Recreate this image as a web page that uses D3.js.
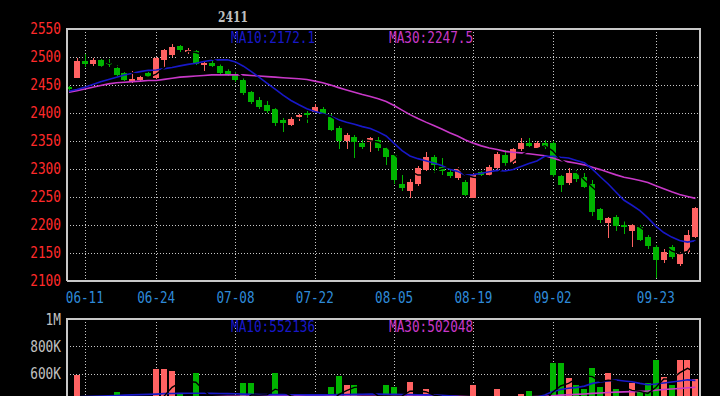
<!DOCTYPE html>
<html>
<head>
<meta charset="utf-8">
<script src="https://cdn.jsdelivr.net/npm/d3@7"></script>
<style>
  html, body { margin: 0; padding: 0; background: #000; overflow: hidden; }
  svg { display: block; }
</style>
</head>
<body>
<div id="chart"></div>
<script>
const title = "2411";

const dates = [
  "06-06","06-07","06-11","06-12","06-13","06-14","06-17","06-18","06-19","06-20",
  "06-21","06-24","06-25","06-26","06-27","06-28","07-01","07-02","07-03","07-04",
  "07-05","07-08","07-09","07-10","07-11","07-12","07-15","07-16","07-17","07-18",
  "07-19","07-22","07-23","07-24","07-25","07-26","07-29","07-30","07-31","08-01",
  "08-02","08-05","08-06","08-07","08-08","08-09","08-12","08-13","08-14","08-15",
  "08-16","08-19","08-20","08-21","08-22","08-23","08-26","08-27","08-28","08-29",
  "08-30","09-02","09-03","09-04","09-05","09-06","09-09","09-10","09-11","09-12",
  "09-13","09-18","09-19","09-20","09-23","09-24","09-25","09-26","09-27","09-30"
];

const open = [
  2446,2463,2492,2487,2494,2489,2481,2471,2458,2459, 2471,2462,2495,2503,2519,2509,2510,2485,2490,2484,
  2475,2470,2459,2438,2424,2415,2408,2387,2378,2392, 2400,2402,2407,2393,2374,2350,2358,2346,2348,2352,
  2337,2325,2274,2260,2273,2298,2322,2303,2295,2284, 2277,2248,2294,2289,2301,2325,2311,2335,2347,2337,
  2346,2346,2287,2275,2292,2286,2274,2228,2203,2215, 2200,2190,2196,2178,2161,2137,2161,2130,2152,2179
];
const high = [
  2448,2498,2505,2498,2496,2497,2486,2473,2475,2467, 2474,2500,2514,2523,2521,2516,2513,2493,2494,2487,
  2478,2473,2462,2440,2428,2421,2411,2391,2392,2399, 2403,2416,2411,2399,2376,2365,2360,2354,2358,2358,
  2339,2328,2290,2283,2305,2330,2325,2319,2298,2303, 2280,2292,2297,2307,2330,2334,2338,2355,2356,2350,
  2351,2350,2290,2302,2299,2292,2280,2230,2215,2218, 2209,2203,2200,2182,2165,2158,2165,2152,2191,2232
];
const low = [
  2439,2462,2483,2484,2481,2482,2466,2457,2453,2456, 2463,2460,2480,2500,2509,2505,2486,2475,2482,2470,
  2466,2456,2433,2416,2408,2400,2376,2366,2376,2385, 2383,2401,2396,2368,2336,2336,2320,2336,2331,2332,
  2307,2273,2260,2249,2270,2296,2292,2289,2284,2280, 2252,2248,2287,2287,2299,2306,2309,2333,2339,2335,
  2336,2285,2259,2272,2277,2266,2216,2203,2176,2190, 2184,2161,2172,2158,2105,2133,2140,2127,2150,2177
];
const close = [
  2442,2492,2488,2495,2484,2486,2467,2459,2461,2465, 2465,2498,2512,2517,2512,2512,2487,2490,2484,2472,
  2468,2459,2435,2420,2411,2404,2383,2382,2390,2396, 2396,2410,2398,2370,2350,2360,2348,2339,2355,2337,
  2322,2280,2266,2276,2302,2322,2307,2296,2287,2300, 2254,2289,2290,2304,2327,2310,2335,2347,2341,2346,
  2339,2289,2271,2292,2282,2268,2224,2209,2212,2198, 2197,2200,2174,2162,2137,2152,2143,2149,2182,2230
];
const volume = [
  380000,590000,350000,300000,320000,360000,470000,330000,300000,280000,
  340000,633000,633000,622000,450000,380000,609000,350000,330000,400000,
  360000,410000,530000,530000,390000,380000,609000,452000,360000,330000,
  370000,400000,380000,505000,585000,517000,517000,400000,370000,390000,
  517000,505000,410000,541000,400000,491000,380000,360000,330000,350000,
  400000,517000,320000,330000,492000,310000,350000,455000,474000,340000,
  380000,681000,681000,567000,517000,488000,644000,504000,609000,491000,
  260000,530000,470000,534000,703000,576000,519000,703000,700000,560000
];

const ma10 = [
  2439,2442,2446,2451,2456,2460,2464,2468,2471,2473.9, 2476.2,2476.8,2479.2,2481.4,2484.2,2486.8,2488.8,2491.9,2494.2,2494.9,
  2495.2,2491.3,2483.6,2473.9,2463.8,2453.0,2442.6,2431.8,2422.4,2414.8, 2407.6,2402.7,2399.0,2394.0,2387.9,2383.5,2380.0,2375.7,2372.2,2366.3,
  2358.9,2345.9,2332.7,2323.3,2318.5,2314.7,2310.6,2306.3,2299.5,2295.8, 2289.0,2289.9,2292.3,2295.1,2297.6,2296.4,2299.2,2304.3,2309.7,2314.3,
  2322.8,2322.8,2320.9,2319.7,2315.2,2311.0,2299.9,2286.1,2273.2,2258.4, 2244.2,2235.3,2225.6,2212.6,2198.1,2186.5,2178.4,2172.4,2169.4,2172.1
];
const ma30 = [
  2437,2440,2443,2446,2449,2452,2454,2455,2456,2457, 2458,2458,2460,2462,2464,2465,2466,2467,2468,2468,
  2468,2468,2468,2467,2466,2465,2464,2463,2462,2461.2, 2459.7,2456.9,2453.9,2449.8,2445.3,2441.1,2437.1,2433.1,2429.6,2425.3,
  2420.6,2413.3,2405.1,2397.1,2390.1,2383.7,2377.7,2371.3,2364.7,2359.0, 2351.8,2346.2,2341.3,2337.5,2334.7,2331.5,2329.9,2328.8,2327.1,2325.5,
  2323.6,2319.5,2315.3,2312.7,2310.4,2307.4,2303.2,2298.9,2294.1,2289.5, 2285.3,2282.7,2279.6,2275.8,2270.3,2264.6,2259.2,2254.3,2250.8,2247.5
];
const volMa10 = [
  430000,432000,434000,436000,438000,440000,442000,444000,446000,448000,
  450000,452000,455000,456000,457000,458000,458000,458000,457000,456000,
  455000,454000,452000,450000,449000,448000,448000,448000,447000,447000,
  446000,446000,446000,447000,448000,449000,450000,451000,452000,452000,
  451000,450000,449000,448000,447000,446000,445000,443000,440000,435000,
  425000,420000,415000,412000,410000,410000,412000,415000,420000,430000,
  445000,470000,485000,495000,500000,510000,530000,540000,548000,555000,
  548000,542000,530000,520000,525000,533000,540000,548000,556000,552136
];
const volMa30 = [
  415000,416000,417000,418000,419000,420000,421000,422000,423000,424000,
  425000,426000,427000,428000,429000,430000,431000,432000,433000,434000,
  435000,436000,437000,437000,438000,438000,439000,439000,440000,440000,
  441000,442000,443000,444000,445000,446000,446000,447000,447000,447000,
  446000,446000,445000,445000,444000,443000,442000,440000,438000,436000,
  434000,432000,430000,430000,430000,430000,431000,432000,433000,434000,
  436000,440000,444000,447000,450000,453000,457000,460000,463000,466000,
  468000,470000,472000,475000,480000,485000,489000,493000,498000,502048
];

const tickDates = ["06-11","06-24","07-08","07-22","08-05","08-19","09-02","09-23"];
const priceTicks = [2100,2150,2200,2250,2300,2350,2400,2450,2500,2550];
const volTicks = [600000,800000,1000000];
const volTickLabels = ["600K","800K","1M"];

const width = 720, height = 396;
const left = 67, right = 700;
const pTop = 29, pBottom = 281;
const vTop = 319, vBottom = 456;
const step = 7.93;

const UP = "#ff6262", DOWN = "#00b400";
const BLUE = "#1818c8", PINK = "#c838c8";
const FRAME = "#c8c8c8";
const mono = "DejaVu Sans Mono";

const svg = d3.select("#chart").append("svg")
  .attr("width", width)
  .attr("height", height)
  .style("background", "#000");

const x = d3.scaleBand()
  .domain(d3.range(dates.length))
  .range([65, 65 + step * dates.length])
  .paddingInner(0.24)
  .paddingOuter(0.12);
const cx = i => x(i) + x.bandwidth() / 2;

const y = d3.scaleLinear().domain([2100, 2550]).range([pBottom, pTop]);
const yv = d3.scaleLinear().domain([0, 1000000]).range([vBottom, vTop]);

const tickIdx = tickDates.map(t => dates.indexOf(t));

// moving average of 5 (drawn in black, only shows over the bars)
const ma5 = arr => arr.map((v, i) => i < 4 ? null : d3.mean(arr.slice(i - 4, i + 1)));

const defs = svg.append("defs");
defs.append("clipPath").attr("id", "clipP").append("rect")
  .attr("x", left).attr("y", pTop).attr("width", right - left).attr("height", pBottom - pTop);
defs.append("clipPath").attr("id", "clipV").append("rect")
  .attr("x", left).attr("y", vTop).attr("width", right - left).attr("height", vBottom - vTop);

function fitText(sel, per) {
  sel.each(function () {
    const t = d3.select(this);
    t.attr("textLength", t.text().length * per).attr("lengthAdjust", "spacingAndGlyphs");
  });
}

// ---------- price panel ----------
const gridP = svg.append("g").attr("stroke", FRAME).attr("stroke-dasharray", "1,2").attr("stroke-width", 1);
gridP.selectAll(".h").data(priceTicks.slice(1, -1)).enter().append("line")
  .attr("x1", left).attr("x2", right)
  .attr("y1", d => Math.round(y(d)) + 0.5).attr("y2", d => Math.round(y(d)) + 0.5);
gridP.selectAll(".v").data(tickIdx).enter().append("line")
  .attr("x1", d => Math.round(cx(d)) + 0.5).attr("x2", d => Math.round(cx(d)) + 0.5)
  .attr("y1", pTop).attr("y2", pBottom);

const candles = svg.append("g").attr("clip-path", "url(#clipP)").attr("shape-rendering", "crispEdges");
const cg = candles.selectAll(".c").data(dates.map((d, i) => i)).enter().append("g");
cg.append("line")
  .attr("x1", i => Math.round(cx(i)) + 0.5).attr("x2", i => Math.round(cx(i)) + 0.5)
  .attr("y1", i => y(high[i])).attr("y2", i => y(low[i]))
  .attr("stroke", i => close[i] >= open[i] ? UP : DOWN);
cg.append("rect")
  .attr("x", i => Math.round(x(i)))
  .attr("width", Math.round(x.bandwidth()))
  .attr("y", i => y(Math.max(open[i], close[i])))
  .attr("height", i => Math.max(1, Math.abs(y(open[i]) - y(close[i]))))
  .attr("fill", i => close[i] >= open[i] ? UP : DOWN);

const lineP = d3.line().defined(d => d != null).x((d, i) => cx(i)).y(d => y(d));
const linesP = svg.append("g").attr("clip-path", "url(#clipP)").attr("fill", "none");
linesP.append("path").attr("d", lineP(ma30)).attr("stroke", PINK).attr("stroke-width", 1.6);
linesP.append("path").attr("d", lineP(ma10)).attr("stroke", BLUE).attr("stroke-width", 1.6);
linesP.append("path").attr("d", lineP(ma5(close))).attr("stroke", "#000").attr("stroke-width", 1.4);

// frame
svg.append("path")
  .attr("d", `M${left},${pBottom}V${pTop}H${right}V${pBottom}H${left}`)
  .attr("fill", "none").attr("stroke", FRAME).attr("stroke-width", 2);

// price axis labels
const axP = svg.append("g").attr("transform", `translate(${left},0)`)
  .call(d3.axisLeft(y).tickValues(priceTicks).tickSize(0).tickPadding(6).tickFormat(d3.format("d")));
axP.select(".domain").remove();
axP.selectAll("text").attr("fill", "#ff2a2a").attr("font-family", mono).attr("font-size", 15).attr("dy", "4px");
fitText(axP.selectAll("text"), 7.7);

// date labels
const axX = svg.append("g").attr("transform", `translate(0,${pBottom})`)
  .call(d3.axisBottom(x).tickValues(tickIdx).tickSize(0).tickPadding(11).tickFormat(i => dates[i]));
axX.select(".domain").remove();
axX.selectAll("text").attr("fill", "#2e8ad8").attr("font-family", mono).attr("font-size", 15);
fitText(axX.selectAll("text"), 7.6);

// title and MA labels
svg.append("text").attr("x", 233).attr("y", 22).attr("text-anchor", "middle")
  .attr("font-family", "DejaVu Serif").attr("font-weight", "bold").attr("font-size", 15)
  .attr("fill", "#c0c0c0").attr("textLength", 30).attr("lengthAdjust", "spacingAndGlyphs")
  .text(title);

function maLabel(tx, ty, txt, color) {
  svg.append("text").attr("x", tx).attr("y", ty)
    .attr("font-family", mono).attr("font-size", 15).attr("fill", color)
    .attr("textLength", txt.length * 7.65).attr("lengthAdjust", "spacingAndGlyphs")
    .text(txt);
}
maLabel(231, 43, "MA10:" + ma10[ma10.length - 1].toFixed(1), BLUE);
maLabel(389, 43, "MA30:" + ma30[ma30.length - 1].toFixed(1), PINK);

// ---------- volume panel ----------
const gridV = svg.append("g").attr("stroke", FRAME).attr("stroke-dasharray", "1,2").attr("stroke-width", 1);
gridV.selectAll(".h").data(volTicks.slice(0, -1)).enter().append("line")
  .attr("x1", left).attr("x2", right)
  .attr("y1", d => Math.round(yv(d)) + 0.5).attr("y2", d => Math.round(yv(d)) + 0.5);
gridV.selectAll(".v").data(tickIdx).enter().append("line")
  .attr("x1", d => Math.round(cx(d)) + 0.5).attr("x2", d => Math.round(cx(d)) + 0.5)
  .attr("y1", vTop).attr("y2", vBottom);

const bars = svg.append("g").attr("clip-path", "url(#clipV)").attr("shape-rendering", "crispEdges");
bars.selectAll("rect").data(volume).enter().append("rect")
  .attr("x", (d, i) => Math.round(x(i)))
  .attr("width", Math.round(x.bandwidth()))
  .attr("y", d => yv(d))
  .attr("height", d => yv(0) - yv(d))
  .attr("fill", (d, i) => close[i] >= open[i] ? UP : DOWN);

const lineV = d3.line().defined(d => d != null).x((d, i) => cx(i)).y(d => yv(d));
const linesV = svg.append("g").attr("clip-path", "url(#clipV)").attr("fill", "none");
linesV.append("path").attr("d", lineV(volMa30)).attr("stroke", PINK).attr("stroke-width", 1.6);
linesV.append("path").attr("d", lineV(volMa10)).attr("stroke", BLUE).attr("stroke-width", 1.6);
linesV.append("path").attr("d", lineV(ma5(volume))).attr("stroke", "#000").attr("stroke-width", 1.4);

svg.append("path")
  .attr("d", `M${left},${vBottom}V${vTop}H${right}V${vBottom}`)
  .attr("fill", "none").attr("stroke", FRAME).attr("stroke-width", 2);

const axV = svg.append("g").attr("transform", `translate(${left},0)`)
  .call(d3.axisLeft(yv).tickValues(volTicks).tickSize(0).tickPadding(6)
    .tickFormat((d, i) => volTickLabels[i]));
axV.select(".domain").remove();
axV.selectAll("text").attr("fill", "#c0c0c0").attr("font-family", mono).attr("font-size", 15).attr("dy", "5px");
fitText(axV.selectAll("text"), 7.7);

maLabel(231, 332, "MA10:" + volMa10[volMa10.length - 1], BLUE);
maLabel(389, 332, "MA30:" + volMa30[volMa30.length - 1], PINK);
</script>
</body>
</html>
